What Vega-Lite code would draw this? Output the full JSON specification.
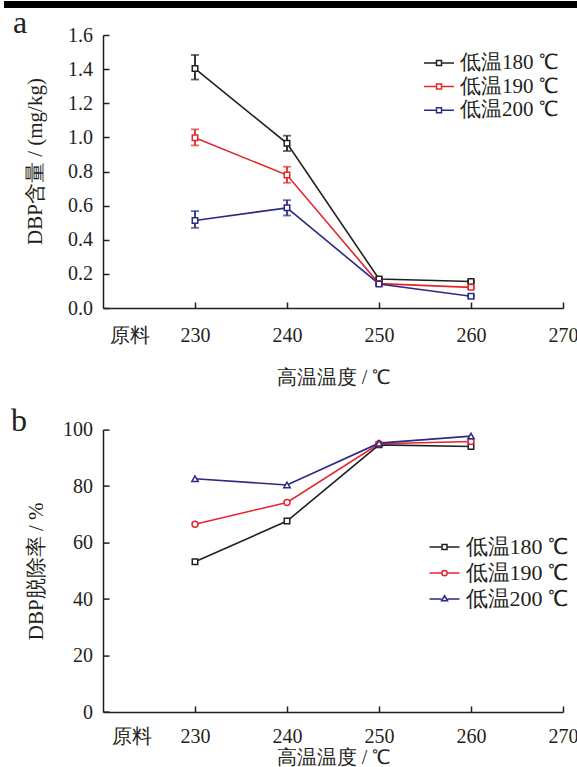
{
  "$schema": "https://vega.github.io/schema/vega-lite/v6.json",
  "padding": 0,
  "background": "white",
  "spacing": 121.6,
  "bounds": "flush",
  "resolve": {"scale": {"color": "independent"}, "legend": {"color": "independent"}},
  "config": {
    "font": "Liberation Serif",
    "view": {"stroke": null},
    "axis": {
      "domainColor": "#231f20", "domainWidth": 1.5,
      "tickColor": "#231f20", "tickWidth": 1.5, "tickSize": -6,
      "labelColor": "#231f20", "titleColor": "#231f20",
      "labelFont": "Liberation Serif", "titleFont": "Liberation Serif",
      "labelFontSize": 20, "titleFontSize": 20, "titleFontWeight": "normal",
      "labelOverlap": false, "grid": false
    },
    "legend": {
      "labelFont": "Liberation Serif", "labelColor": "#231f20", "labelLimit": 0,
      "padding": 0, "symbolSize": 400, "labelOffset": 10, "symbolStrokeWidth": 1.5
    }
  },
  "datasets": {
    "content": [
      {"series": "低温180 ℃", "temp": 230, "value": 1.403, "lo": 1.339, "hi": 1.483},
      {"series": "低温180 ℃", "temp": 240, "value": 0.965, "lo": 0.920, "hi": 1.010},
      {"series": "低温180 ℃", "temp": 250, "value": 0.170, "lo": 0.162, "hi": 0.178},
      {"series": "低温180 ℃", "temp": 260, "value": 0.155, "lo": 0.148, "hi": 0.162},
      {"series": "低温190 ℃", "temp": 230, "value": 0.998, "lo": 0.953, "hi": 1.047},
      {"series": "低温190 ℃", "temp": 240, "value": 0.779, "lo": 0.734, "hi": 0.828},
      {"series": "低温190 ℃", "temp": 250, "value": 0.143, "lo": 0.136, "hi": 0.150},
      {"series": "低温190 ℃", "temp": 260, "value": 0.121, "lo": 0.115, "hi": 0.127},
      {"series": "低温200 ℃", "temp": 230, "value": 0.513, "lo": 0.470, "hi": 0.568},
      {"series": "低温200 ℃", "temp": 240, "value": 0.587, "lo": 0.542, "hi": 0.632},
      {"series": "低温200 ℃", "temp": 250, "value": 0.141, "lo": 0.134, "hi": 0.148},
      {"series": "低温200 ℃", "temp": 260, "value": 0.069, "lo": 0.063, "hi": 0.075}
    ],
    "removal": [
      {"series": "低温180 ℃", "temp": 230, "value": 53.2},
      {"series": "低温180 ℃", "temp": 240, "value": 67.6},
      {"series": "低温180 ℃", "temp": 250, "value": 94.6},
      {"series": "低温180 ℃", "temp": 260, "value": 94.0},
      {"series": "低温190 ℃", "temp": 230, "value": 66.5},
      {"series": "低温190 ℃", "temp": 240, "value": 74.2},
      {"series": "低温190 ℃", "temp": 250, "value": 95.0},
      {"series": "低温190 ℃", "temp": 260, "value": 95.8},
      {"series": "低温200 ℃", "temp": 230, "value": 82.6},
      {"series": "低温200 ℃", "temp": 240, "value": 80.4},
      {"series": "低温200 ℃", "temp": 250, "value": 95.2},
      {"series": "低温200 ℃", "temp": 260, "value": 97.7}
    ]
  },
  "vconcat": [
    {
      "width": 460,
      "height": 273,
      "title": {"text": "a", "anchor": "start", "frame": "group", "dx": -90, "dy": 64, "offset": 0, "baseline": "alphabetic", "fontSize": 32, "fontWeight": "normal", "font": "Liberation Serif", "color": "#231f20"},
      "data": {"name": "content"},
      "layer": [
        {
          "data": {"values": [{}]},
          "mark": {"type": "rule", "strokeWidth": 7, "color": "#000000", "strokeCap": "butt"},
          "encoding": {
            "x": {"datum": 209.24, "type": "quantitative", "scale": {"domain": [220, 270], "nice": false, "zero": false}},
            "x2": {"datum": 271.6},
            "y": {"datum": 1.779, "type": "quantitative", "scale": {"domain": [0, 1.6], "nice": false},
              "axis": {"title": "DBP含量 / (mg/kg)", "values": [0, 0.2, 0.4, 0.6, 0.8, 1.0, 1.2, 1.4, 1.6], "format": ".1f", "labelOverlap": false, "labelPadding": 16.5, "titlePadding": 22, "titleFontSize": 21, "titleY": 126}}
          }
        },
        {
          "transform": [{"filter": "datum.series == '低温180 ℃'"}],
          "mark": {"type": "errorbar", "ticks": {"size": 8}, "thickness": 1.8, "color": "#231f20"},
          "encoding": {
            "x": {"field": "temp", "type": "quantitative", "scale": {"domain": [220, 270], "nice": false, "zero": false}},
            "y": {"field": "lo", "type": "quantitative", "scale": {"domain": [0, 1.6], "nice": false},
              "axis": {"title": "DBP含量 / (mg/kg)", "values": [0, 0.2, 0.4, 0.6, 0.8, 1.0, 1.2, 1.4, 1.6], "format": ".1f", "labelOverlap": false, "labelPadding": 16.5, "titlePadding": 22, "titleFontSize": 21, "titleY": 126}},
            "y2": {"field": "hi"}
          }
        },
        {
          "transform": [{"filter": "datum.series == '低温190 ℃'"}],
          "mark": {"type": "errorbar", "ticks": {"size": 8}, "thickness": 1.8, "color": "#e3262b"},
          "encoding": {
            "x": {"field": "temp", "type": "quantitative", "scale": {"domain": [220, 270], "nice": false, "zero": false}},
            "y": {"field": "lo", "type": "quantitative", "scale": {"domain": [0, 1.6], "nice": false},
              "axis": {"title": "DBP含量 / (mg/kg)", "values": [0, 0.2, 0.4, 0.6, 0.8, 1.0, 1.2, 1.4, 1.6], "format": ".1f", "labelOverlap": false, "labelPadding": 16.5, "titlePadding": 22, "titleFontSize": 21, "titleY": 126}},
            "y2": {"field": "hi"}
          }
        },
        {
          "transform": [{"filter": "datum.series == '低温200 ℃'"}],
          "mark": {"type": "errorbar", "ticks": {"size": 8}, "thickness": 1.8, "color": "#2b2a85"},
          "encoding": {
            "x": {"field": "temp", "type": "quantitative", "scale": {"domain": [220, 270], "nice": false, "zero": false}},
            "y": {"field": "lo", "type": "quantitative", "scale": {"domain": [0, 1.6], "nice": false},
              "axis": {"title": "DBP含量 / (mg/kg)", "values": [0, 0.2, 0.4, 0.6, 0.8, 1.0, 1.2, 1.4, 1.6], "format": ".1f", "labelOverlap": false, "labelPadding": 16.5, "titlePadding": 22, "titleFontSize": 21, "titleY": 126}},
            "y2": {"field": "hi"}
          }
        },
        {
          "mark": {"type": "line", "strokeWidth": 1.6},
          "encoding": {
            "x": {
              "field": "temp", "type": "quantitative",
              "scale": {"domain": [220, 270], "nice": false, "zero": false},
              "axis": {
                "title": "高温温度 / ℃",
                "values": [220, 230, 240, 250, 260, 270],
                "labelExpr": "datum.value == 220 ? '原料' : datum.label",
                "labelFlush": false,
                "labelOverlap": false,
                "labelAlign": {"condition": {"test": "datum.value == 220", "value": "left"}, "value": "center"},
                "labelOffset": {"condition": {"test": "datum.value == 220", "value": 6}, "value": 0},
                "tickOpacity": {"condition": {"test": "datum.value == 220", "value": 0}, "value": 1},
                "labelPadding": 23,
                "titlePadding": 22
              }
            },
            "y": {
              "field": "value", "type": "quantitative",
              "scale": {"domain": [0, 1.6], "nice": false},
              "axis": {"title": "DBP含量 / (mg/kg)", "values": [0, 0.2, 0.4, 0.6, 0.8, 1.0, 1.2, 1.4, 1.6], "format": ".1f", "labelOverlap": false, "labelPadding": 16.5, "titlePadding": 22, "titleFontSize": 21, "titleY": 126}
            },
            "color": {
              "field": "series", "type": "nominal",
              "scale": {"domain": ["低温180 ℃", "低温190 ℃", "低温200 ℃"], "range": ["#231f20", "#e3262b", "#2b2a85"]},
              "legend": {
                "title": null, "orient": "none", "legendX": 325, "legendY": 17,
                "rowPadding": 2.6, "labelFontSize": 21,
                "symbolType": "M-1.5,0H-0.25M0.25,0H1.5M-0.25,-0.25H0.25V0.25H-0.25Z",
                "symbolFillColor": "white",
                "encode": {"symbols": {"update": {"fill": {"value": "white"}, "strokeWidth": {"value": 1.5}}}}
              }
            }
          }
        },
        {
          "transform": [{"filter": "datum.series == '低温180 ℃'"}],
          "mark": {"type": "point", "shape": "square", "filled": true, "fill": "white", "stroke": "#231f20", "size": 30, "strokeWidth": 1.5, "opacity": 1},
          "encoding": {
            "x": {"field": "temp", "type": "quantitative", "scale": {"domain": [220, 270], "nice": false, "zero": false}},
            "y": {"field": "value", "type": "quantitative", "scale": {"domain": [0, 1.6], "nice": false},
              "axis": {"title": "DBP含量 / (mg/kg)", "values": [0, 0.2, 0.4, 0.6, 0.8, 1.0, 1.2, 1.4, 1.6], "format": ".1f", "labelOverlap": false, "labelPadding": 16.5, "titlePadding": 22, "titleFontSize": 21, "titleY": 126}}
          }
        },
        {
          "transform": [{"filter": "datum.series == '低温190 ℃'"}],
          "mark": {"type": "point", "shape": "square", "filled": true, "fill": "white", "stroke": "#e3262b", "size": 30, "strokeWidth": 1.5, "opacity": 1},
          "encoding": {
            "x": {"field": "temp", "type": "quantitative", "scale": {"domain": [220, 270], "nice": false, "zero": false}},
            "y": {"field": "value", "type": "quantitative", "scale": {"domain": [0, 1.6], "nice": false},
              "axis": {"title": "DBP含量 / (mg/kg)", "values": [0, 0.2, 0.4, 0.6, 0.8, 1.0, 1.2, 1.4, 1.6], "format": ".1f", "labelOverlap": false, "labelPadding": 16.5, "titlePadding": 22, "titleFontSize": 21, "titleY": 126}}
          }
        },
        {
          "transform": [{"filter": "datum.series == '低温200 ℃'"}],
          "mark": {"type": "point", "shape": "square", "filled": true, "fill": "white", "stroke": "#2b2a85", "size": 30, "strokeWidth": 1.5, "opacity": 1},
          "encoding": {
            "x": {"field": "temp", "type": "quantitative", "scale": {"domain": [220, 270], "nice": false, "zero": false}},
            "y": {"field": "value", "type": "quantitative", "scale": {"domain": [0, 1.6], "nice": false},
              "axis": {"title": "DBP含量 / (mg/kg)", "values": [0, 0.2, 0.4, 0.6, 0.8, 1.0, 1.2, 1.4, 1.6], "format": ".1f", "labelOverlap": false, "labelPadding": 16.5, "titlePadding": 22, "titleFontSize": 21, "titleY": 126}}
          }
        }
      ]
    },
    {
      "width": 460,
      "height": 282.4,
      "title": {"text": "b", "anchor": "start", "frame": "group", "dx": -92, "dy": 43.4, "offset": 0, "baseline": "alphabetic", "fontSize": 32, "fontWeight": "normal", "font": "Liberation Serif", "color": "#231f20"},
      "data": {"name": "removal"},
      "encoding": {
        "x": {"field": "temp", "type": "quantitative", "scale": {"domain": [220, 270], "nice": false, "zero": false}},
        "y": {"field": "value", "type": "quantitative", "scale": {"domain": [0, 100], "nice": false}, "title": "DBP脱除率 / %"}
      },
      "layer": [
        {
          "mark": {"type": "line", "strokeWidth": 1.6},
          "encoding": {
            "x": {
              "field": "temp", "type": "quantitative",
              "scale": {"domain": [220, 270], "nice": false, "zero": false},
              "axis": {
                "title": "高温温度 / ℃",
                "values": [220, 230, 240, 250, 260, 270],
                "labelExpr": "datum.value == 220 ? '原料' : datum.label",
                "labelFlush": false,
                "labelOverlap": false,
                "labelAlign": {"condition": {"test": "datum.value == 220", "value": "left"}, "value": "center"},
                "labelOffset": {"condition": {"test": "datum.value == 220", "value": 8}, "value": 0},
                "tickOpacity": {"condition": {"test": "datum.value == 220", "value": 0}, "value": 1},
                "labelPadding": 20,
                "titlePadding": 1
              }
            },
            "y": {
              "field": "value", "type": "quantitative",
              "scale": {"domain": [0, 100], "nice": false},
              "axis": {"title": "DBP脱除率 / %", "values": [0, 20, 40, 60, 80, 100], "labelOverlap": false, "labelPadding": 16.5, "titlePadding": 16, "titleFontSize": 21}
            },
            "color": {
              "field": "series", "type": "nominal",
              "scale": {"domain": ["低温180 ℃", "低温190 ℃", "低温200 ℃"], "range": ["#231f20", "#e3262b", "#2b2a85"]},
              "legend": {
                "title": null, "orient": "none", "legendX": 330.5, "legendY": 106.5,
                "rowPadding": 4, "labelFontSize": 22,
                "symbolType": "M-1.5,0H-0.25M0.25,0H1.5M-0.25,-0.25H0.25V0.25H-0.25Z",
                "symbolFillColor": "white",
                "encode": {"symbols": {"update": {
                  "fill": {"value": "white"},
                  "strokeWidth": {"value": 1.5},
                  "shape": {"signal": "datum.value == '低温180 ℃' ? 'M-1.5,0H-0.25M0.25,0H1.5M-0.25,-0.25H0.25V0.25H-0.25Z' : datum.value == '低温190 ℃' ? 'M-1.5,0H-0.27M0.27,0H1.5M0.27,0A0.27,0.27,0,1,1,-0.27,0A0.27,0.27,0,1,1,0.27,0Z' : 'M-1.5,0H-0.3M0.3,0H1.5M-0.3,0.17L0,-0.33L0.3,0.17Z'"}
                }}}
              }
            }
          }
        },
        {
          "transform": [{"filter": "datum.series == '低温180 ℃'"}],
          "mark": {"type": "point", "shape": "square", "filled": true, "fill": "white", "stroke": "#231f20", "size": 30, "strokeWidth": 1.5, "opacity": 1}
        },
        {
          "transform": [{"filter": "datum.series == '低温190 ℃'"}],
          "mark": {"type": "point", "shape": "circle", "filled": true, "fill": "white", "stroke": "#e3262b", "size": 36, "strokeWidth": 1.5, "opacity": 1}
        },
        {
          "transform": [{"filter": "datum.series == '低温200 ℃'"}],
          "mark": {"type": "point", "shape": "triangle-up", "filled": true, "fill": "white", "stroke": "#2b2a85", "size": 40, "strokeWidth": 1.5, "opacity": 1}
        }
      ]
    }
  ]
}
